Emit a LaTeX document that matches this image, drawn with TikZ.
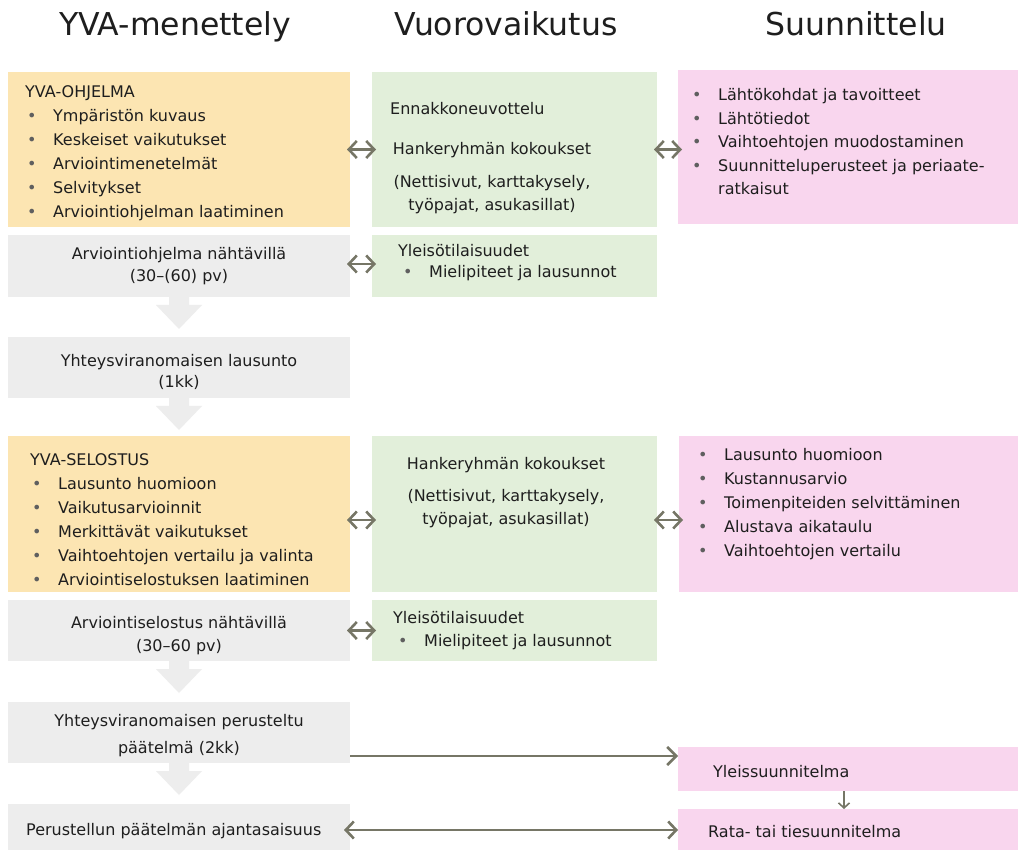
\documentclass[tikz,border=0pt]{standalone}
\usepackage{fontspec}
\setmainfont{DejaVu Sans}
\usetikzlibrary{arrows.meta,positioning}

\definecolor{yvayellow}{RGB}{252,229,178}
\definecolor{talkgreen}{RGB}{226,239,218}
\definecolor{planpink}{RGB}{249,214,238}
\definecolor{stepgray}{RGB}{237,237,237}
\definecolor{linkgray}{RGB}{118,118,102}
\definecolor{dotgray}{RGB}{95,95,95}
\definecolor{ink}{RGB}{30,30,30}

\newcommand\bitem[1][2pt]{\hspace*{#1}\makebox[26pt][l]{\textcolor{dotgray}{•}}}

\tikzset{
  box/.style={anchor=north west,inner sep=0pt,outer sep=0pt},
  txt/.style={inner sep=0pt,text=ink,font=\fontsize{16}{24}\selectfont},
  head/.style={anchor=base,inner sep=0pt,text=ink,font=\fontsize{31.5}{36}\selectfont},
  link/.style={draw=linkgray,line width=2.6pt,
    {Straight Barb[length=8pt,width=17pt]}-{Straight Barb[length=8pt,width=17pt]},
    shorten <=-3pt,shorten >=-4pt},
  toward/.style={draw=linkgray,line width=2.5pt,-{Straight Barb[length=9pt,width=18pt]}},
  smallstep/.style={draw=linkgray,line width=1.6pt,-{Straight Barb[length=5pt,width=11pt]}}
}

\begin{document}
\begin{tikzpicture}[x=1pt,y=-1pt]
  \useasboundingbox[fill=white] (0,0) rectangle (1018,850);

  % column headings
  \node[head] (hyva) at (175,36) {YVA-menettely};
  \node[head] (htalk) at (506,36) {Vuorovaikutus};
  \node[head] (hplan) at (856,36) {Suunnittelu};

  % YVA column
  \node[box,fill=yvayellow,minimum width=342,minimum height=155] (ohj) at (8,72) {};
  \node[box,fill=stepgray,minimum width=342,minimum height=62] (ohjN) at (8,235) {};
  \node[box,fill=stepgray,minimum width=342,minimum height=61] (lausunto) at (8,337) {};
  \node[box,fill=yvayellow,minimum width=342,minimum height=156] (sel) at (8,436) {};
  \node[box,fill=stepgray,minimum width=342,minimum height=61] (selN) at (8,600) {};
  \node[box,fill=stepgray,minimum width=342,minimum height=61] (paatelma) at (8,702) {};
  \node[box,fill=stepgray,minimum width=342,minimum height=46] (ajant) at (8,804) {};

  % interaction column
  \node[box,fill=talkgreen,minimum width=285,minimum height=155] (g1) at (372,72) {};
  \node[box,fill=talkgreen,minimum width=285,minimum height=62] (g2) at (372,235) {};
  \node[box,fill=talkgreen,minimum width=285,minimum height=156] (g3) at (372,436) {};
  \node[box,fill=talkgreen,minimum width=285,minimum height=61] (g4) at (372,600) {};

  % planning column
  \node[box,fill=planpink,minimum width=340,minimum height=154] (p1) at (678,70) {};
  \node[box,fill=planpink,minimum width=339,minimum height=156] (p2) at (679,436) {};
  \node[box,fill=planpink,minimum width=340,minimum height=44] (p3) at (678,747) {};
  \node[box,fill=planpink,minimum width=340,minimum height=41] (p4) at (678,809) {};

  % down steps between the grey boxes
  \foreach \n in {ohjN,lausunto,selN,paatelma}
    \fill[stepgray] (\n.south) ++(-10,0) -- ++(20,0) -- ++(0,8) -- ++(13,0)
      -- ++(-23,24) -- ++(-23,-24) -- ++(13,0) -- cycle;

  % texts (base = baseline of the last line)
  \node[txt,anchor=base west,align=left] (ohjT) at (25,218) {YVA-OHJELMA\\
    \bitem Ympäristön kuvaus\\ \bitem Keskeiset vaikutukset\\
    \bitem Arviointimenetelmät\\ \bitem Selvitykset\\
    \bitem Arviointiohjelman laatiminen};
  \node[txt,align=center,font=\fontsize{16}{22}\selectfont] (ohjNT) at (ohjN.center)
    {Arviointiohjelma nähtävillä\\(30–(60) pv)};
  \node[txt,align=center,font=\fontsize{16}{21}\selectfont] (lausuntoT) at ([yshift=-4pt]lausunto.center)
    {Yhteysviranomaisen lausunto\\(1kk)};
  \node[txt,anchor=base west,align=left] (selT) at (30,585) {YVA-SELOSTUS\\
    \bitem Lausunto huomioon\\ \bitem Vaikutusarvioinnit\\
    \bitem Merkittävät vaikutukset\\ \bitem Vaihtoehtojen vertailu ja valinta\\
    \bitem Arviointiselostuksen laatiminen};
  \node[txt,align=center,font=\fontsize{16}{23}\selectfont] (selNT) at ([yshift=-5pt]selN.center)
    {Arviointiselostus nähtävillä\\(30–60 pv)};
  \node[txt,align=center,font=\fontsize{16}{27}\selectfont] (paatelmaT) at ([yshift=-3pt]paatelma.center)
    {Yhteysviranomaisen perusteltu\\päätelmä (2kk)};
  \node[txt,anchor=base west] (ajantT) at (26,835) {Perustellun päätelmän ajantasaisuus};

  \node[txt,anchor=base west] (ennak) at (390,115) {Ennakkoneuvottelu};
  \node[txt,anchor=base,align=center,font=\fontsize{16}{23}\selectfont] (hank1) at (492,211)
    {Hankeryhmän kokoukset\\[10pt](Nettisivut, karttakysely,\\työpajat, asukasillat)};
  \node[txt,anchor=base west,align=left,font=\fontsize{16}{21}\selectfont] (yleis1) at (398,278)
    {Yleisötilaisuudet\\ \bitem[5pt]Mielipiteet ja lausunnot};
  \node[txt,anchor=base,align=center,font=\fontsize{16}{23}\selectfont] (hank2) at (506,524)
    {Hankeryhmän kokoukset\\[9pt](Nettisivut, karttakysely,\\työpajat, asukasillat)};
  \node[txt,anchor=base west,align=left,font=\fontsize{16}{23}\selectfont] (yleis2) at (393,646)
    {Yleisötilaisuudet\\ \bitem[5pt]Mielipiteet ja lausunnot};

  \node[txt,anchor=base west,align=left,font=\fontsize{16}{23.5}\selectfont] (p1T) at (690,195)
    {\bitem Lähtökohdat ja tavoitteet\\ \bitem Lähtötiedot\\
     \bitem Vaihtoehtojen muodostaminen\\ \bitem Suunnitteluperusteet ja periaate-\\
     \hspace*{28pt}ratkaisut};
  \node[txt,anchor=base west,align=left] (p2T) at (696,556)
    {\bitem Lausunto huomioon\\ \bitem Kustannusarvio\\
     \bitem Toimenpiteiden selvittäminen\\ \bitem Alustava aikataulu\\
     \bitem Vaihtoehtojen vertailu};
  \node[txt,anchor=base west] (p3T) at (713,777) {Yleissuunnitelma};
  \node[txt,anchor=base west] (p4T) at (708,837) {Rata- tai tiesuunnitelma};

  % connectors
  \draw[link] (ohj.east) -- (g1.west);
  \draw[link] (g1.east) -- (p1.west |- g1.east);
  \draw[link] ([yshift=2pt]ohjN.east) -- ([yshift=2pt]g2.west);
  \draw[link] ([yshift=-6pt]sel.east) -- ([yshift=-6pt]g3.west);
  \draw[link] ([yshift=-6pt]g3.east) -- ([yshift=-6pt]p2.west);
  \draw[link] (selN.east) -- (g4.west);
  \draw[toward] ([yshift=-23.5pt]paatelma.east) -- ([yshift=13pt]p3.west);
  \draw[link,shorten <=-6pt,shorten >=0pt] ([yshift=-3pt]ajant.east) -- ([yshift=-3pt]ajant.east -| p4.west);
  \draw[smallstep] ([xshift=-4pt]p3.south) -- ([xshift=-4pt]p4.north);
\end{tikzpicture}
\end{document}
